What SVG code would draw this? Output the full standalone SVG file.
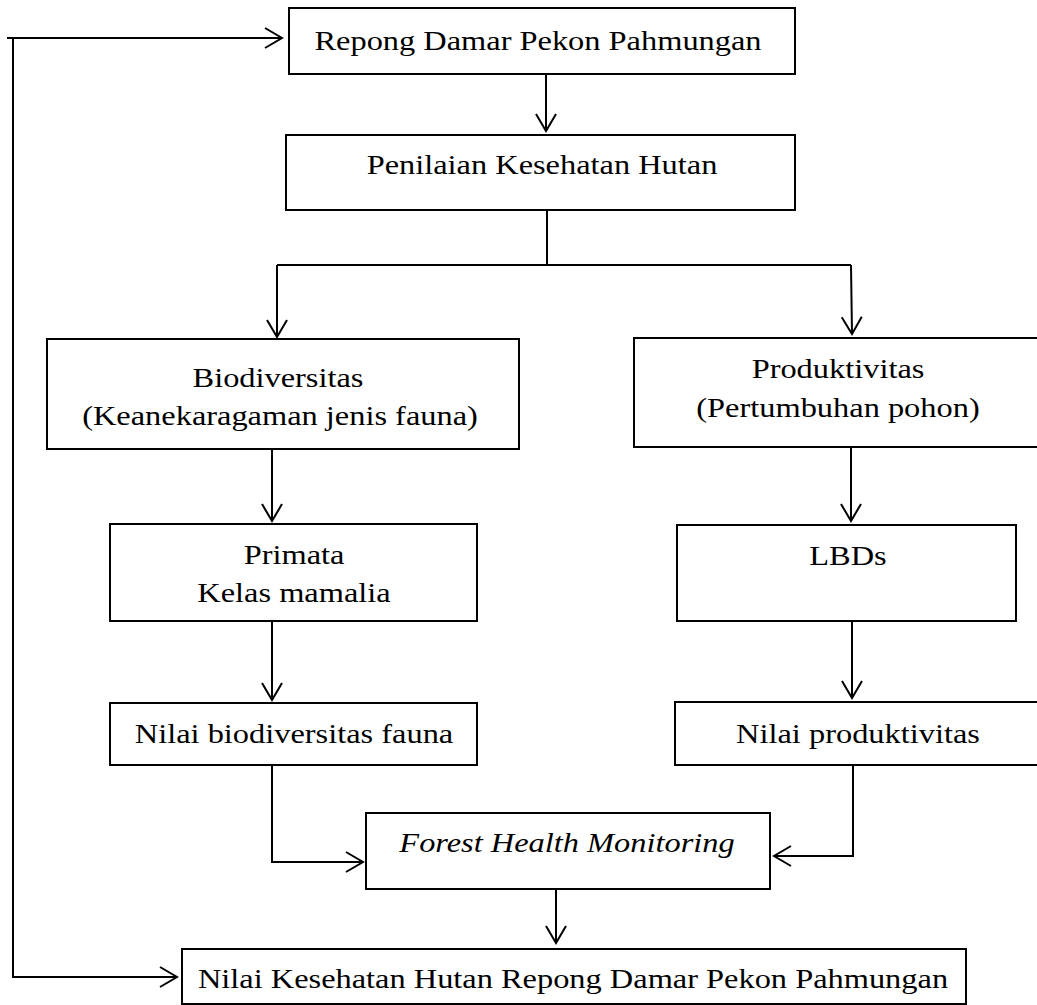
<svg xmlns="http://www.w3.org/2000/svg" width="1037" height="1005" viewBox="0 0 1037 1005">
<style>
.box{fill:#fff;stroke:#000;stroke-width:2}
.c{fill:none;stroke:#000;stroke-width:2}
.a{marker-end:url(#arr)}
text{font-family:"Liberation Serif","Times New Roman",serif;font-size:27px;fill:#000;text-anchor:middle}
.it{font-style:italic}
</style>
<defs>
<marker id="arr" markerUnits="userSpaceOnUse" viewBox="-2 -2 21 24" markerWidth="21" markerHeight="24" refX="17" refY="10" orient="auto">
<path d="M0,0 L17,10 L0,20" fill="none" stroke="#000" stroke-width="2"/>
</marker>
</defs>
<rect width="1037" height="1005" fill="#fff"/>
<g id="connectors">
<path class="c a" d="M7,38 H282"/>
<path class="c a" d="M13,38 V977 H177"/>
<path class="c a" d="M546,74 V131"/>
<path class="c" d="M547,210 V265 M277,265 H851"/>
<path class="c a" d="M277,265 V337"/>
<path class="c a" d="M851,265 L852,334"/>
<path class="c a" d="M272,449 V521"/>
<path class="c a" d="M851,447 V521"/>
<path class="c a" d="M272,621 V700"/>
<path class="c a" d="M852,621 V698"/>
<path class="c a" d="M272,765 V862 H363"/>
<path class="c a" d="M853,765 V856 H774"/>
<path class="c a" d="M556,889 V943"/>
</g>
<g id="n1"><rect class="box" x="289" y="8" width="506" height="66"/>
<text transform="translate(538,50) scale(1.2,1)">Repong Damar Pekon Pahmungan</text></g>
<g id="n2"><rect class="box" x="286" y="135" width="509" height="75"/>
<text transform="translate(542,174) scale(1.2,1)">Penilaian Kesehatan Hutan</text></g>
<g id="n3"><rect class="box" x="47" y="339" width="472" height="110"/>
<text transform="translate(278,387) scale(1.2,1)">Biodiversitas</text>
<text transform="translate(280,425) scale(1.2,1)">(Keanekaragaman jenis fauna)</text></g>
<g id="n4"><rect class="box" x="634" y="338" width="420" height="109"/>
<text transform="translate(838,378) scale(1.2,1)">Produktivitas</text>
<text transform="translate(838,417) scale(1.2,1)">(Pertumbuhan pohon)</text></g>
<g id="n5"><rect class="box" x="110" y="524" width="367" height="97"/>
<text transform="translate(294,564) scale(1.2,1)">Primata</text>
<text transform="translate(294,602) scale(1.2,1)">Kelas mamalia</text></g>
<g id="n6"><rect class="box" x="677" y="525" width="339" height="96"/>
<text transform="translate(848,565) scale(1.2,1)">LBDs</text></g>
<g id="n7"><rect class="box" x="110" y="703" width="367" height="62"/>
<text transform="translate(294,743) scale(1.2,1)">Nilai biodiversitas fauna</text></g>
<g id="n8"><rect class="box" x="675" y="702" width="380" height="63"/>
<text transform="translate(858,743) scale(1.2,1)">Nilai produktivitas</text></g>
<g id="n9"><rect class="box" x="366" y="813" width="404" height="76"/>
<text class="it" transform="translate(567,852) scale(1.2,1)">Forest Health Monitoring</text></g>
<g id="n10"><rect class="box" x="182" y="949" width="784" height="55"/>
<text transform="translate(573,988) scale(1.2,1)">Nilai Kesehatan Hutan Repong Damar Pekon Pahmungan</text></g>
</svg>
